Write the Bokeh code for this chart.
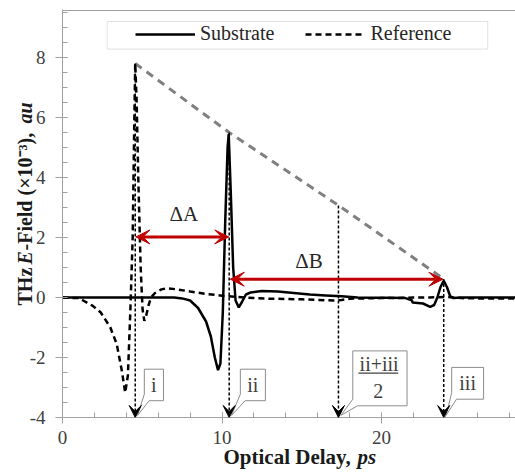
import math
from bokeh.plotting import figure
from bokeh.models import (Range1d, Arrow, VeeHead, Title, Legend, LegendItem,
                          BoxAnnotation, Span, ColumnDataSource, SingleIntervalTicker,
                          PrintfTickFormatter)
from bokeh.core.properties import value
from bokeh.embed import file_html
from bokeh.resources import INLINE

# ---------------- data ----------------
ref_x = [0.0, 1.0, 1.3, 1.9, 2.4, 3.0, 3.4, 3.72, 3.93, 4.1, 4.25, 4.4, 4.5, 4.56,
         4.65, 4.75, 4.9, 5.02, 5.13, 5.25, 5.4, 5.55, 5.8, 6.2, 6.55, 7.2, 8.0,
         9.0, 10.0, 11.0, 12.0, 13.0, 14.0, 15.0, 16.0, 17.0, 17.5, 18.0, 19.0,
         20.0, 21.0, 22.0, 23.0, 24.0, 25.0, 26.0, 28.4]
ref_y = [0.0, -0.02, -0.1, -0.28, -0.5, -1.0, -1.55, -2.44, -3.17, -2.6, -0.5, 2.0,
         5.8, 7.8, 6.5, 4.0, 1.0, -0.4, -0.78, -0.6, -0.25, 0.0, 0.15, 0.27, 0.31,
         0.27, 0.2, 0.12, 0.06, 0.02, -0.02, -0.04, -0.05, -0.06, -0.08, -0.1,
         -0.08, -0.04, -0.03, -0.02, -0.02, 0.0, 0.0, 0.02, -0.02, -0.03, -0.03]

sub_x = [0.0, 5.0, 7.0, 7.5, 8.0, 8.5, 9.0, 9.3, 9.55, 9.75, 9.9, 10.05, 10.2,
         10.35, 10.42, 10.55, 10.7, 10.85, 11.05, 11.25, 11.5, 11.8, 12.5, 13.5,
         14.5, 15.5, 16.5, 17.5, 18.5, 19.5, 20.5, 21.5, 21.9, 21.95, 22.6, 23.05,
         23.3, 23.5, 23.7, 23.9, 24.1, 24.3, 24.5, 25.0, 28.4]
sub_y = [0.0, 0.0, 0.0, -0.03, -0.1, -0.35, -0.8, -1.3, -2.0, -2.42, -2.2, -0.5,
         2.5, 5.0, 5.45, 3.5, 1.0, -0.1, -0.33, -0.15, 0.1, 0.17, 0.22, 0.2, 0.15,
         0.1, 0.07, 0.04, 0.0, -0.01, -0.01, -0.02, -0.09, -0.17, -0.2, -0.31,
         -0.25, 0.0, 0.35, 0.56, 0.35, 0.05, -0.02, 0.0, 0.0]

# peak markers (delay positions i, ii, (ii+iii)/2, iii)
mark_x = [4.56, 10.45, 17.3, 23.9]
mark_top = [7.8, 5.5, 3.07, 0.62]
mark_names = ["i", "ii", "ii+iii", "iii"]

# time differences: x_start, x_end, y
dA = [4.6, 10.42, 2.02]
dB = [10.52, 23.85, 0.61]

# ---------------- figure ----------------
SERIF = "Liberation Serif"
GREY = "#a0a0a0"
DARK = "#404040"

p = figure(width=515, height=472, output_backend="svg", toolbar_location=None,
           x_range=Range1d(0, 28.4), y_range=Range1d(-4, 9.6),
           min_border_left=62, min_border_right=0, min_border_top=9,
           min_border_bottom=55)
p.outline_line_color = None
p.grid.visible = False
p.background_fill_color = "white"
p.border_fill_color = "white"

p.xaxis.ticker = SingleIntervalTicker(interval=10, num_minor_ticks=5)
p.yaxis.ticker = SingleIntervalTicker(interval=2, num_minor_ticks=4)
for ax in (p.xaxis[0], p.yaxis[0]):
    ax.formatter = PrintfTickFormatter(format="%d")
    ax.axis_line_color = GREY
    ax.major_tick_line_color = GREY
    ax.minor_tick_line_color = GREY
    ax.major_label_text_font = SERIF
    ax.major_label_text_font_size = "19px"
    ax.major_label_text_color = DARK
    ax.major_tick_in = 5
    ax.minor_tick_in = 5
    ax.minor_tick_out = 0
p.xaxis.major_tick_out = 6
p.yaxis.major_tick_out = 7
p.xaxis.major_label_standoff = 7
p.yaxis.major_label_standoff = 10

# top frame line
p.add_layout(Span(location=9.567, dimension="width", line_color=GREY, line_width=1))

# grey dashed envelope through the peaks
p.line(mark_x, mark_top, line_color="#808080", line_width=3, line_dash="8 6")

# curves
r_sub = p.line(sub_x, sub_y, line_color="black", line_width=2.5)
r_ref = p.line(ref_x, ref_y, line_color="black", line_width=2.5, line_dash="6 4")

# callouts: box (x0, x1, y0, y1) and pointer to the arrow tip
call_boxes = [(5.13, 6.33, -3.44, -2.39), (11.15, 12.72, -3.44, -2.39),
              (18.2, 21.6, -3.61, -1.78), (24.4, 26.4, -3.39, -2.33)]
for (x0, x1, y0, y1), xm in zip(call_boxes, mark_x):
    xs = [x0, x1, x1, x0 + 0.3, xm + 0.15, x0, x0]
    ys = [y1, y1, y0, y0, -3.93, y0 + 0.22, y1]
    p.patch(xs, ys, fill_color="white", line_color="#8c8c8c", line_width=1)

txt = dict(text_font=value(SERIF), text_font_size="20px", text_color=DARK,
           text_align="center", text_baseline="middle")
p.text(x=[5.73, 11.93, 25.4], y=[-2.9, -2.9, -2.86],
       text=[mark_names[0], mark_names[1], mark_names[3]], **txt)
p.text(x=[19.85], y=[-2.22], text=[mark_names[2]], **txt)
p.text(x=[19.8], y=[-3.1], text=["2"], **txt)
p.line([18.55, 21.05], [-2.52, -2.52], line_color=DARK, line_width=1.2)

# vertical dotted arrows
src = ColumnDataSource(dict(x=mark_x, y0=mark_top, y1=[-4.0] * len(mark_x)))
p.add_layout(Arrow(source=src, x_start="x", y_start="y0", x_end="x", y_end="y1",
                   line_color="black", line_width=1.5, line_dash="3 2",
                   end=VeeHead(size=12, fill_color="black", line_color="black")))

# red double arrows
RED = "#c00000"
for x0, x1, yy in (dA, dB):
    p.add_layout(Arrow(x_start=x0, y_start=yy, x_end=x1, y_end=yy,
                       line_color=RED, line_width=3,
                       start=VeeHead(size=14, fill_color=RED, line_color=RED),
                       end=VeeHead(size=14, fill_color=RED, line_color=RED)))
p.text(x=[7.6, 15.45], y=[2.78, 1.22], text=["\u0394A", "\u0394B"],
       text_font=value(SERIF), text_font_size="21px", text_color="#262626",
       text_align="center", text_baseline="middle")

# legend
p.add_layout(BoxAnnotation(left=2.8, right=26.66, bottom=8.28, top=9.2,
                           fill_color="white", fill_alpha=1.0,
                           line_color=GREY, line_width=1, level="annotation"))
legend = Legend(items=[LegendItem(label="Substrate", renderers=[r_sub]),
                       LegendItem(label="Reference", renderers=[r_ref])],
                location=(73, 372), orientation="horizontal", glyph_width=60,
                glyph_height=20, label_height=20, label_standoff=5, spacing=31,
                padding=0, margin=0, border_line_color=None,
                background_fill_alpha=0, label_text_font=SERIF,
                label_text_font_size="20px", label_text_color="#262626")
p.add_layout(legend)

# axis titles built from pieces (mixed bold / italic) that share one line
def title(text, side, style, offset, standoff, va, size):
    p.add_layout(Title(text=text, align="left", offset=offset, standoff=standoff,
                       vertical_align=va, text_font=SERIF, text_font_size=size,
                       text_font_style=style, text_color="#1a1a1a"), side)

title("Optical Delay,", "below", "bold", 161, -6.8, "bottom", "21px")
title("ps", "below", "bold italic", 295, -40.4, "top", "21px")

title("THz", "left", "bold", 112, -24.5, "top", "20px")
title("E", "left", "bold italic", 153, -24.5, "top", "20px")
title("-Field (\u00d710\u207b\u00b3),", "left", "bold", 167, -24.5, "top", "20px")
title("au", "left", "bold italic", 294, -24.5, "top", "20px")

open("out.html", "w").write(file_html(p, INLINE))
